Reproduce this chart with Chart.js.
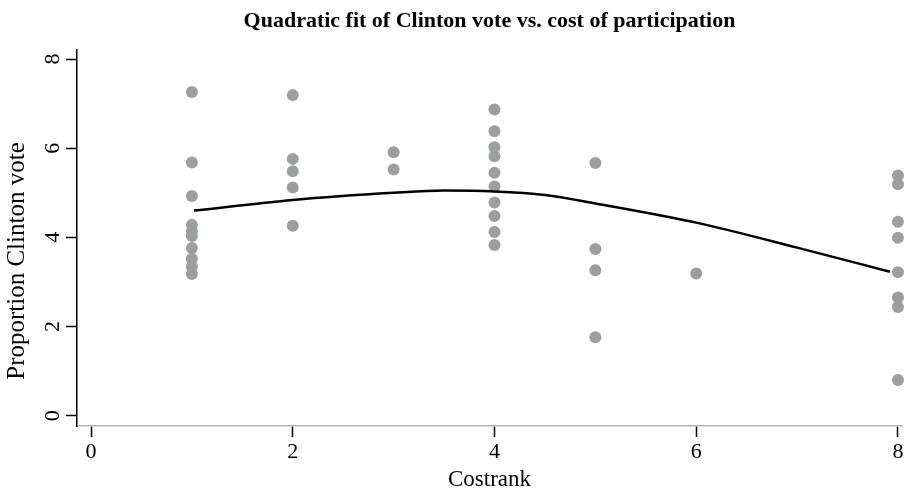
<!DOCTYPE html>
<html>
<head>
<meta charset="utf-8">
<script src="https://cdn.jsdelivr.net/npm/chart.js@4.4.1/dist/chart.umd.min.js"></script>
<style>
  body { margin: 0; background: #fff; }
  #wrap { width: 908px; height: 489px; }
</style>
</head>
<body>
<div id="wrap"><canvas id="qfit"></canvas></div>
<script>
// observed states: cost rank and Clinton vote proportion
var costrank = [1, 1, 1, 1, 1, 1, 1, 1, 1, 1,
                2, 2, 2, 2, 2,
                3, 3,
                4, 4, 4, 4, 4, 4, 4, 4, 4, 4,
                5, 5, 5, 5,
                6,
                8, 8, 8, 8, 8, 8, 8, 8];
var clintonVote = [7.26, 5.68, 4.93, 4.28, 4.14, 4.03, 3.76, 3.52, 3.34, 3.18,
                   7.19, 5.76, 5.48, 5.12, 4.26,
                   5.91, 5.52,
                   6.87, 6.38, 6.02, 5.82, 5.45, 5.14, 4.78, 4.48, 4.12, 3.83,
                   5.67, 3.74, 3.26, 1.76,
                   3.19,
                   5.39, 5.19, 4.35, 3.99, 3.22, 2.65, 2.44, 0.80];

// fitted quadratic curve
var fitX = [1.02, 2, 3, 3.5, 4, 4.5, 5, 6, 7, 7.92];
var fitY = [4.60, 4.84, 5.00, 5.05, 5.03, 4.95, 4.76, 4.33, 3.77, 3.23];

var xTicks = [0, 2, 4, 6, 8];
var yTicks = [0, 2, 4, 6, 8];

var serif = '"Liberation Serif", "Times New Roman", serif';

var points = costrank.map(function (c, i) { return {x: c, y: clintonVote[i]}; });
var curve = fitX.map(function (c, i) { return {x: c, y: fitY[i]}; });

// y axis title sits a bit below the middle of the axis
var yTitle = {
  id: 'yTitle',
  afterDraw: function (chart) {
    var ctx = chart.ctx;
    ctx.save();
    ctx.translate(17, 261);
    ctx.rotate(-Math.PI / 2);
    ctx.font = '25px ' + serif;
    ctx.fillStyle = '#000';
    ctx.textAlign = 'center';
    ctx.textBaseline = 'middle';
    ctx.fillText('Proportion Clinton vote', 0, 0);
    ctx.restore();
  }
};

var qfit = document.getElementById('qfit');
new Chart(qfit, {
  type: 'scatter',
  data: {
    datasets: [{
      label: 'Proportion Clinton vote',
      data: points,
      backgroundColor: '#9d9ea0',
      borderWidth: 0,
      pointRadius: 6,
      clip: false,
      order: 2
    }, {
      label: 'Fitted values',
      data: curve,
      showLine: true,
      borderColor: '#000',
      borderWidth: 2.5,
      pointRadius: 0,
      cubicInterpolationMode: 'monotone',
      order: 1
    }]
  },
  options: {
    responsive: true,
    maintainAspectRatio: false,
    animation: false,
    layout: { padding: { left: 0, right: 0, top: 0, bottom: 0 } },
    plugins: {
      legend: { display: false },
      tooltip: { enabled: false },
      title: {
        display: true,
        text: 'Quadratic fit of Clinton vote vs. cost of participation',
        fullSize: false,
        color: '#000',
        font: { family: serif, size: 22, weight: 'bold', lineHeight: 1.2 },
        padding: { top: 8, bottom: 15.6 }
      }
    },
    scales: {
      x: {
        type: 'linear',
        min: -0.139,
        max: 8.04,
        afterBuildTicks: function (axis) { axis.ticks = xTicks.map(function (v) { return {value: v}; }); },
        afterFit: function (axis) { axis.height = 63; },
        grid: { drawOnChartArea: false, drawTicks: true, tickLength: 11, tickColor: '#000', tickWidth: 1.5 },
        border: { color: '#b4b4b4', width: 1.5 },
        ticks: { color: '#000', padding: 2, font: { family: serif, size: 22 } },
        title: {
          display: true,
          text: 'Costrank',
          color: '#000',
          font: { family: serif, size: 23, lineHeight: 0.8 },
          padding: { top: 0, bottom: 0 }
        }
      },
      y: {
        type: 'linear',
        min: -0.231,
        max: 8.202,
        afterBuildTicks: function (axis) { axis.ticks = yTicks.map(function (v) { return {value: v}; }); },
        afterFit: function (axis) { axis.width = 77; },
        grid: { drawOnChartArea: false, drawTicks: true, tickLength: 11, tickColor: '#000', tickWidth: 1.5 },
        border: { color: '#000', width: 1.5 },
        ticks: {
          color: '#000',
          padding: 7,
          minRotation: 90,
          maxRotation: 90,
          crossAlign: 'center',
          font: { family: serif, size: 22 }
        }
      }
    }
  },
  plugins: [yTitle]
});
</script>
</body>
</html>
